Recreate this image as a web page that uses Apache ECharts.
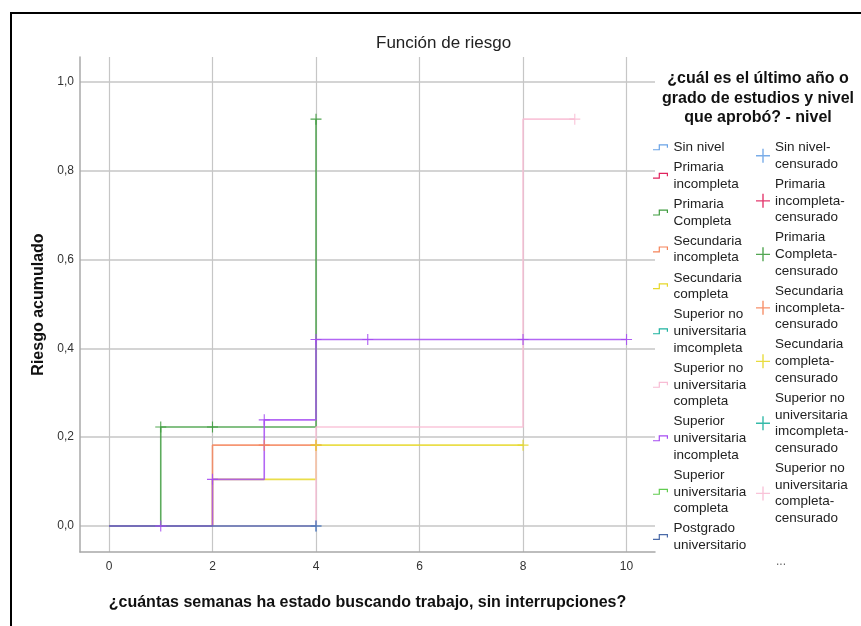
<!DOCTYPE html>
<html><head><meta charset="utf-8">
<script src="https://cdn.jsdelivr.net/npm/echarts@6/dist/echarts.min.js"></script>
<style>html,body{margin:0;padding:0;background:#fff}#c{width:861px;height:626px}</style>
</head><body><div id="c"></div>
<script>
// ---- data ----
const categories = ["Sin nivel","Primaria\nincompleta","Primaria\nCompleta","Secundaria\nincompleta","Secundaria\ncompleta","Superior no\nuniversitaria\nimcompleta","Superior no\nuniversitaria\ncompleta","Superior\nuniversitaria\nincompleta","Superior\nuniversitaria\ncompleta","Postgrado\nuniversitario"];
const censoredLabels = ["Sin nivel-\ncensurado","Primaria\nincompleta-\ncensurado","Primaria\nCompleta-\ncensurado","Secundaria\nincompleta-\ncensurado","Secundaria\ncompleta-\ncensurado","Superior no\nuniversitaria\nimcompleta-\ncensurado","Superior no\nuniversitaria\ncompleta-\ncensurado","Superior\nuniversitaria\nincompleta-\ncensurado","Superior\nuniversitaria\ncompleta-\ncensurado","Postgrado\nuniversitario-\ncensurado"];
// step curves (time of change, cumulative hazard after change)
const tSinNivel = [0,4],          hSinNivel = [0,0];
const tPrimInc = [],              hPrimInc = [];
const tPrimComp = [0,1,4],        hPrimComp = [0,0.223,0.916];
const tSecInc = [0,2,4],          hSecInc = [0,0.182,0.182];
const tSecComp = [0,2,4,8],       hSecComp = [0,0.105,0.182,0.182];
const tSupNoUInc = [],            hSupNoUInc = [];
const tSupNoUComp = [0,4,8,9],    hSupNoUComp = [0,0.223,0.916,0.916];
const tSupUInc = [0,2,3,4,10],    hSupUInc = [0,0.105,0.239,0.42,0.42];
const tSupUComp = [],             hSupUComp = [];
const tPostgrado = [0,4],         hPostgrado = [0,0];
// censored observations
const cSinNivelT = [4],           cSinNivelH = [0];
const cPrimIncT = [],             cPrimIncH = [];
const cPrimCompT = [1,2,4],       cPrimCompH = [0.223,0.223,0.916];
const cSecIncT = [3,4],           cSecIncH = [0.182,0.182];
const cSecCompT = [4,8],          cSecCompH = [0.182,0.182];
const cSupNoUIncT = [],           cSupNoUIncH = [];
const cSupNoUCompT = [9],         cSupNoUCompH = [0.916];
const cSupUIncT = [1,2,3,4,5,8,10], cSupUIncH = [0,0.105,0.239,0.42,0.42,0.42,0.42];
const cSupUCompT = [],            cSupUCompH = [];
const cPostgradoT = [4],          cPostgradoH = [0];
const xTickValues = [0,2,4,6,8,10];
const yTickValues = [0,0.2,0.4,0.6,0.8,1.0];

const stepT = [tSinNivel,tPrimInc,tPrimComp,tSecInc,tSecComp,tSupNoUInc,tSupNoUComp,tSupUInc,tSupUComp,tPostgrado];
const stepH = [hSinNivel,hPrimInc,hPrimComp,hSecInc,hSecComp,hSupNoUInc,hSupNoUComp,hSupUInc,hSupUComp,hPostgrado];
const cenT = [cSinNivelT,cPrimIncT,cPrimCompT,cSecIncT,cSecCompT,cSupNoUIncT,cSupNoUCompT,cSupUIncT,cSupUCompT,cPostgradoT];
const cenH = [cSinNivelH,cPrimIncH,cPrimCompH,cSecIncH,cSecCompH,cSupNoUIncH,cSupNoUCompH,cSupUIncH,cSupUCompH,cPostgradoH];

// ---- style ----
const colors = ['#6aa3e6','#e0245e','#3f9c3f','#f5845a','#e6d82a','#1fb3a0','#f8bcd4','#a64cf2','#62cc50','#4a6aa8'];
const SANS = "'Liberation Sans',Arial,sans-serif";
const stepIcon = 'path://M0,4.8H6.9V6H0Z M5.7,0H6.9V6H5.7Z M5.7,0H15V1.2H5.7Z M13.8,0H15V3.5H13.8Z';
const crossIcon = 'path://M0,6.3H14V7.7H0Z M6.3,0H7.7V14H6.3Z';

const series = [];
categories.forEach((name,i)=>{
  series.push({
    name: name, type:'line', step:'end', symbol:'none', silent:true,
    data: stepT[i].map((t,k)=>[t, stepH[i][k]]),
    lineStyle:{color:colors[i], width:1.6, opacity:0.85},
    itemStyle:{color:colors[i]}, z:2
  });
});
censoredLabels.forEach((name,i)=>{
  series.push({
    name: name, type:'scatter', symbol: crossIcon, symbolSize: 11, silent:true,
    data: cenT[i].map((t,k)=>[t, cenH[i][k]]),
    itemStyle:{color:colors[i], opacity:0.9}, z:3
  });
});

const isTick = (v, arr)=> arr.some(a=>Math.abs(a-v)<1e-6);

const chart = echarts.init(document.getElementById('c'), null, {renderer:'canvas'});
chart.setOption({
  animation:false,
  backgroundColor:'#fff',
  title:{text:'Función de riesgo', left:371, top:30,
    textStyle:{fontFamily:SANS, fontSize:17, fontWeight:'normal', color:'#222'}},
  grid:{left:80, top:57, width:575, height:495, containLabel:false},
  xAxis:{type:'value', min:-0.56, max:10.55, splitNumber:5,
    axisLine:{show:true, onZero:false, lineStyle:{color:'#a8a8a8', width:1.5}},
    axisTick:{show:false},
    axisLabel:{fontFamily:SANS, fontSize:12, color:'#333', margin:9,
      showMinLabel:false, showMaxLabel:false,
      formatter:v=> isTick(v,xTickValues) ? String(Math.round(v)) : ''},
    splitLine:{show:true, showMinLine:false, showMaxLine:false, lineStyle:{color:'#c6c6c6', width:1.2}},
    name:'¿cuántas semanas ha estado buscando trabajo, sin interrupciones?',
    nameLocation:'middle', nameGap:43,
    nameTextStyle:{fontFamily:SANS, fontWeight:'bold', fontSize:16, color:'#111'}},
  yAxis:{type:'value', min:-0.0586, max:1.056, splitNumber:5,
    axisLine:{show:true, onZero:false, lineStyle:{color:'#a8a8a8', width:1.5}},
    axisTick:{show:false},
    axisLabel:{fontFamily:SANS, fontSize:12, color:'#333', margin:6,
      showMinLabel:false, showMaxLabel:false,
      formatter:v=> isTick(v,yTickValues) ? v.toFixed(1).replace('.',',') : ''},
    splitLine:{show:true, showMinLine:false, showMaxLine:false, lineStyle:{color:'#d4d4d4', width:1.8}},
    name:'Riesgo acumulado', nameLocation:'middle', nameGap:31, nameRotate:90,
    nameTextStyle:{fontFamily:SANS, fontWeight:'bold', fontSize:16, color:'#111'}},
  legend:[
    {orient:'vertical', left:653, top:139, itemWidth:16, itemHeight:6, itemGap:3.4,
     selectedMode:false, padding:0,
     data: categories.map(n=>({name:n, icon:stepIcon})),
     textStyle:{fontFamily:SANS, fontSize:13.5, lineHeight:16.7, color:'#222'}},
    {orient:'vertical', left:756, top:139, itemWidth:14, itemHeight:14, itemGap:3.4,
     selectedMode:false, padding:0,
     data: censoredLabels.slice(0,7).map(n=>({name:n, icon:crossIcon})),
     textStyle:{fontFamily:SANS, fontSize:13.5, lineHeight:16.7, color:'#222'}}
  ],
  graphic:[
    {type:'rect', shape:{x:11,y:13,width:900,height:700}, style:{fill:'none', stroke:'#000', lineWidth:2}, silent:true},
    {type:'text', x:758, y:69, silent:true,
     style:{text:'¿cuál es el último año o\ngrado de estudios y nivel\nque aprobó? - nivel',
       textAlign:'center', textVerticalAlign:'top', fontFamily:SANS, fontWeight:'bold', fontSize:16, lineHeight:19.5, fill:'#111'}},
    {type:'text', x:776, y:556, silent:true,
     style:{text:'...', fontFamily:SANS, fontSize:12, fill:'#666'}}
  ],
  series: series
});
</script></body></html>
